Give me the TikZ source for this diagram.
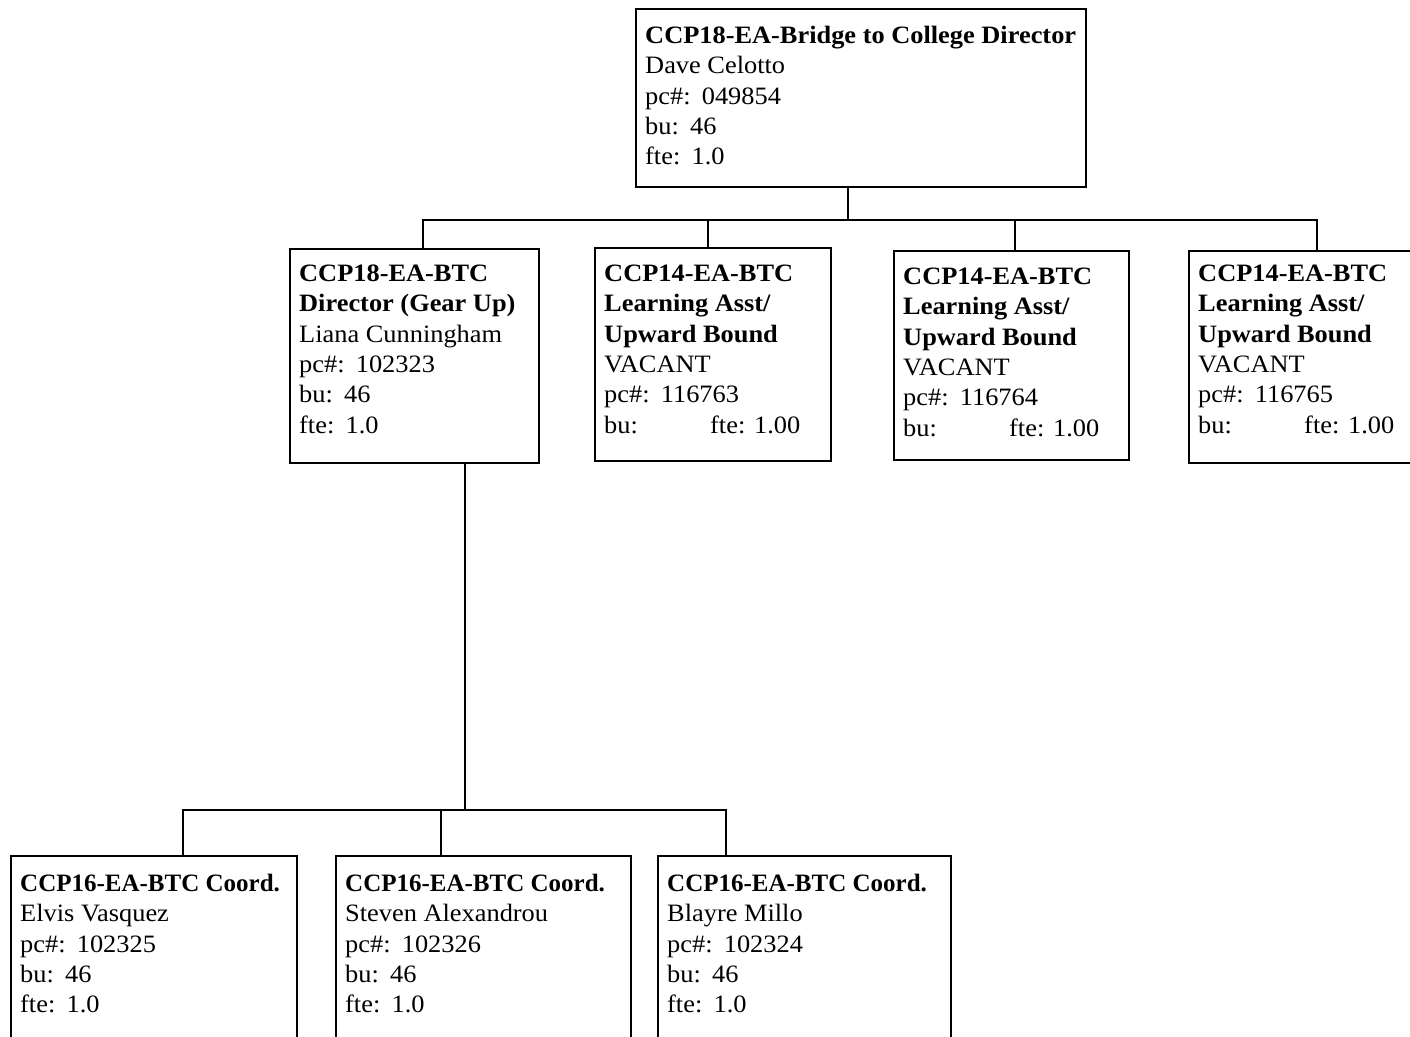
\documentclass[tikz,border=0pt]{standalone}
\usepackage{fontspec}
\setmainfont[FakeStretch=1.055]{Liberation Serif}
\newfontfamily\narrowserif{Liberation Serif}
\newcommand{\fstrut}{\rule{0pt}{20pt}}
\newcommand{\gapsp}{\hspace{0.45em}}
\newcommand{\coordtitle}{{\narrowserif\bfseries CCP16-EA-BTC Coord.}}
\begin{document}
\begin{tikzpicture}[x=1pt,y=-1pt,
  box/.style={draw=black,line width=2.2pt,inner sep=0pt,anchor=north west},
  txt/.style={inner sep=0pt,anchor=north west,align=left,font=\fontsize{25}{30.4}\selectfont},
  conn/.style={draw=black,line width=1.4pt}]
\clip (0,0) rectangle (1410,1036);
\fill[white] (0,0) rectangle (1410,1036);
% boxes
\node[box,minimum width=450pt,minimum height=178pt] (top) at (635,8) {};
\node[box,minimum width=249pt,minimum height=214pt] (A) at (289,248) {};
\node[box,minimum width=236pt,minimum height=213pt] (B) at (594,247) {};
\node[box,minimum width=235pt,minimum height=209pt] (C) at (893,250) {};
\node[box,minimum width=260pt,minimum height=212pt] (D) at (1188,250) {};
\node[box,minimum width=286pt,minimum height=200pt] (E) at (10,855) {};
\node[box,minimum width=295pt,minimum height=200pt] (F) at (335,855) {};
\node[box,minimum width=293pt,minimum height=200pt] (G) at (657,855) {};
% texts
\node[txt] (ttop) at (645,23) {\fstrut\textbf{CCP18-EA-Bridge to College Director}\\Dave Celotto\\pc\#:\gapsp 049854\\bu:\gapsp 46\\fte:\gapsp 1.0};
\node[txt] (tA) at (299,261) {\fstrut\textbf{CCP18-EA-BTC}\\\textbf{Director (Gear Up)}\\Liana Cunningham\\pc\#:\gapsp 102323\\bu:\gapsp 46\\fte:\gapsp 1.0};
\node[txt] (tB) at (604,261) {\fstrut\textbf{CCP14-EA-BTC}\\\textbf{Learning Asst/}\\\textbf{Upward Bound}\\VACANT\\pc\#:\gapsp 116763\\\makebox[106pt][l]{bu:}fte: 1.00};
\node[txt] (tC) at (903,264) {\fstrut\textbf{CCP14-EA-BTC}\\\textbf{Learning Asst/}\\\textbf{Upward Bound}\\VACANT\\pc\#:\gapsp 116764\\\makebox[106pt][l]{bu:}fte: 1.00};
\node[txt] (tD) at (1198,261) {\fstrut\textbf{CCP14-EA-BTC}\\\textbf{Learning Asst/}\\\textbf{Upward Bound}\\VACANT\\pc\#:\gapsp 116765\\\makebox[106pt][l]{bu:}fte: 1.00};
\node[txt] (tE) at (20,871) {\fstrut\coordtitle\\Elvis Vasquez\\pc\#:\gapsp 102325\\bu:\gapsp 46\\fte:\gapsp 1.0};
\node[txt] (tF) at (345,871) {\fstrut\coordtitle\\Steven Alexandrou\\pc\#:\gapsp 102326\\bu:\gapsp 46\\fte:\gapsp 1.0};
\node[txt] (tG) at (667,871) {\fstrut\coordtitle\\Blayre Millo\\pc\#:\gapsp 102324\\bu:\gapsp 46\\fte:\gapsp 1.0};
% connectors
\coordinate (bus1) at (848,220);
\coordinate (bus2) at (465,810);
\draw[conn] (top.south -| bus1) -- (bus1);
\draw[conn] (A.north -| 423,0) |- (bus1) -| (D.north -| 1317,0);
\draw[conn] (B.north -| 708,0) -- (708,220);
\draw[conn] (C.north -| 1015,0) -- (1015,220);
\draw[conn] (A.south -| bus2) -- (bus2);
\draw[conn] (E.north -| 183,0) |- (bus2) -| (G.north -| 726,0);
\draw[conn] (F.north -| 441,0) -- (441,810);
\end{tikzpicture}
\end{document}
